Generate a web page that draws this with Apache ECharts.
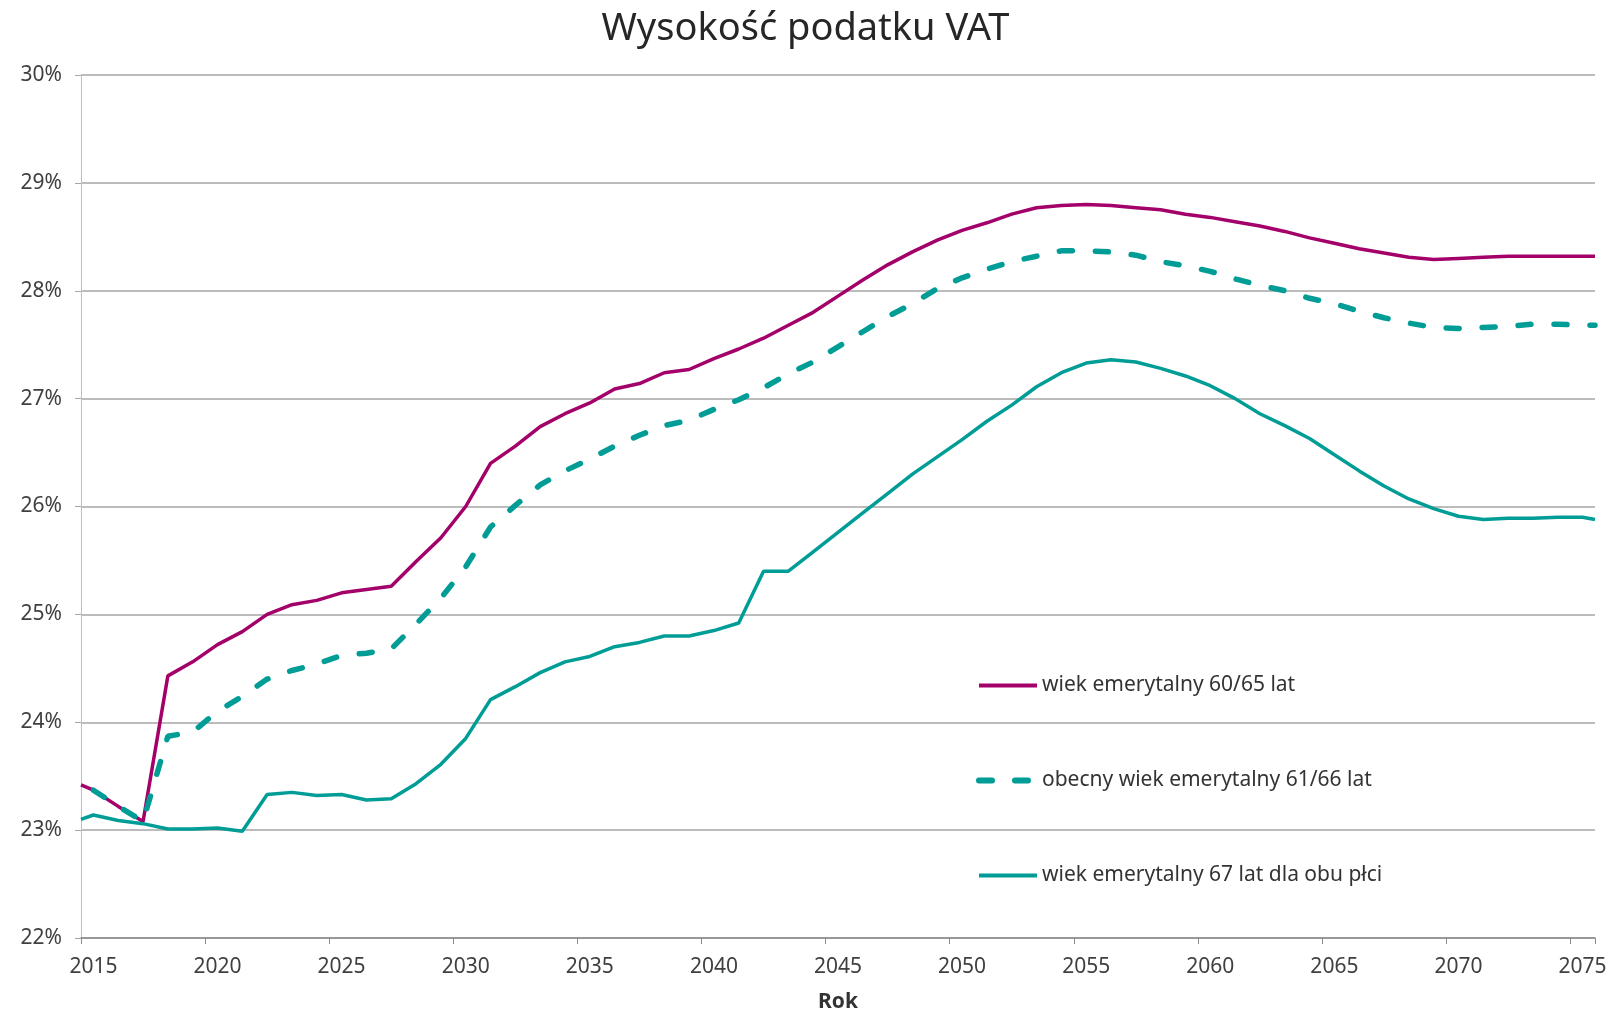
<!DOCTYPE html>
<html>
<head>
<meta charset="utf-8">
<title>Wysokość podatku VAT</title>
<script src="https://cdn.jsdelivr.net/npm/echarts@6/dist/echarts.min.js"></script>
<style>
  html, body { margin: 0; padding: 0; background: #fff; }
  #main_chart { width: 1611px; height: 1013px; }
</style>
</head>
<body>
<div id="main_chart"></div>
<script>
// lata na osi (kategorie)
var lata = ['2015','2016','2017','2018','2019','2020','2021','2022','2023','2024',
            '2025','2026','2027','2028','2029','2030','2031','2032','2033','2034',
            '2035','2036','2037','2038','2039','2040','2041','2042','2043','2044',
            '2045','2046','2047','2048','2049','2050','2051','2052','2053','2054',
            '2055','2056','2057','2058','2059','2060','2061','2062','2063','2064',
            '2065','2066','2067','2068','2069','2070','2071','2072','2073','2074','2075'];

// linie dochodza do krawedzi wykresu (pol roku przed 2015 i po 2075)
var krawedzLewa = 2014.5;
var krawedzPrawa = 2075.5;

var nazwySerii = ['wiek emerytalny 60/65 lat',
                  'obecny wiek emerytalny 61/66 lat',
                  'wiek emerytalny 67 lat dla obu płci'];

// wartosci: [lewa krawedz, 2015 ... 2075, prawa krawedz]
var vat_60_65 = [23.42,
  23.37,23.22,23.08,24.43,24.56,24.72,24.84,25.00,25.09,25.13,
  25.20,25.23,25.26,25.49,25.71,26.00,26.40,26.56,26.74,26.86,
  26.96,27.09,27.14,27.24,27.27,27.37,27.46,27.56,27.68,27.80,
  27.95,28.10,28.24,28.36,28.47,28.56,28.63,28.71,28.77,28.79,
  28.80,28.79,28.77,28.75,28.71,28.68,28.64,28.60,28.55,28.49,
  28.44,28.39,28.35,28.31,28.29,28.30,28.31,28.32,28.32,28.32,28.32,
  28.32];

var vat_61_66 = [null,
  23.37,23.22,23.08,23.87,23.91,24.10,24.24,24.40,24.48,24.54,
  24.62,24.64,24.68,24.91,25.15,25.44,25.81,26.01,26.20,26.33,
  26.44,26.56,26.66,26.75,26.80,26.90,26.99,27.10,27.23,27.34,
  27.48,27.62,27.76,27.88,28.02,28.12,28.20,28.27,28.32,28.37,
  28.37,28.36,28.33,28.27,28.23,28.18,28.11,28.05,28.00,27.93,
  27.88,27.81,27.75,27.70,27.66,27.65,27.66,27.67,27.69,27.69,27.68,
  27.68];

var vat_67 = [23.10,
  23.14,23.09,23.06,23.01,23.01,23.02,22.99,23.33,23.35,23.32,
  23.33,23.28,23.29,23.43,23.61,23.85,24.21,24.33,24.46,24.56,
  24.61,24.70,24.74,24.80,24.80,24.85,24.92,25.40,25.40,25.58,
  25.76,25.94,26.12,26.30,26.46,26.62,26.79,26.94,27.11,27.24,
  27.33,27.36,27.34,27.28,27.21,27.12,27.00,26.86,26.75,26.63,
  26.48,26.33,26.19,26.07,25.98,25.91,25.88,25.89,25.89,25.90,25.90,
  25.88];

var kolory = ['#A3006A', '#009C96', '#009C96'];
var kreska = [13, 23];

// pozycje x dla punktow (rok)
var pozycjeX = [krawedzLewa];
for (var i = 0; i < lata.length; i++) {
    pozycjeX.push(Number(lata[i]));
}
pozycjeX.push(krawedzPrawa);

function zrobPunkty(wartosci) {
    var punkty = [];
    for (var i = 0; i < wartosci.length; i++) {
        if (wartosci[i] == null) continue;
        punkty.push([pozycjeX[i], wartosci[i]]);
    }
    return punkty;
}

var fontTxt = '"Noto Sans", "Liberation Sans", sans-serif';

var myChart = echarts.init(document.getElementById('main_chart'));

var option = {
    backgroundColor: '#ffffff',
    animation: false,
    title: {
        text: 'Wysokość podatku VAT',
        left: 'center',
        top: 5,
        textStyle: {
            fontFamily: fontTxt,
            fontSize: 38,
            fontWeight: 'normal',
            color: '#262626'
        }
    },
    grid: {
        left: 81,
        right: 16,
        top: 75,
        bottom: 75,
        containLabel: false,
        outerBoundsMode: 'none'
    },
    legend: {
        orient: 'vertical',
        left: 971,
        top: 670,
        itemWidth: 58,
        itemHeight: 14,
        itemGap: 74,
        // bez kolka w ikonie legendy, tylko linia
        itemStyle: { opacity: 0 },
        data: [
            { name: nazwySerii[0], lineStyle: { width: 4 } },
            { name: nazwySerii[1], lineStyle: { width: 6, type: kreska, cap: 'round' } },
            { name: nazwySerii[2], lineStyle: { width: 4 } }
        ],
        textStyle: {
            fontFamily: fontTxt,
            fontSize: 21,
            color: '#333333'
        }
    },
    xAxis: [
        {
            type: 'category',
            data: lata,
            boundaryGap: true,
            name: 'Rok',
            nameLocation: 'middle',
            nameGap: 54,
            nameTextStyle: {
                fontFamily: fontTxt,
                fontSize: 21,
                fontWeight: 'bold',
                color: '#333333'
            },
            axisLine: { lineStyle: { color: '#8C8C8C', width: 1.5 } },
            axisTick: { show: true, interval: 4, length: 6, lineStyle: { color: '#8C8C8C' } },
            axisLabel: {
                interval: 4,
                margin: 19,
                fontFamily: fontTxt,
                fontSize: 21,
                color: '#404040'
            },
            splitLine: { show: false }
        },
        {
            type: 'value',
            min: krawedzLewa,
            max: krawedzPrawa,
            show: false
        }
    ],
    yAxis: {
        type: 'value',
        min: 22,
        max: 30,
        interval: 1,
        axisLine: { show: true, lineStyle: { color: '#BFBFBF', width: 1 } },
        axisTick: { show: true, length: 6, lineStyle: { color: '#A6A6A6' } },
        axisLabel: {
            formatter: '{value}%',
            margin: 19,
            fontFamily: fontTxt,
            fontSize: 21,
            color: '#404040'
        },
        splitLine: { show: true, lineStyle: { color: '#A6A6A6', width: 1.5 } }
    },
    series: [
        {
            name: nazwySerii[0],
            type: 'line',
            xAxisIndex: 1,
            data: zrobPunkty(vat_60_65),
            symbol: 'none',
            color: kolory[0],
            lineStyle: { color: kolory[0], width: 3.5 }
        },
        {
            name: nazwySerii[1],
            type: 'line',
            xAxisIndex: 1,
            data: zrobPunkty(vat_61_66),
            symbol: 'none',
            color: kolory[1],
            lineStyle: { color: kolory[1], width: 5.5, type: kreska, cap: 'round' }
        },
        {
            name: nazwySerii[2],
            type: 'line',
            xAxisIndex: 1,
            data: zrobPunkty(vat_67),
            symbol: 'none',
            color: kolory[2],
            lineStyle: { color: kolory[2], width: 3.5 }
        }
    ]
};

myChart.setOption(option);
</script>
</body>
</html>
